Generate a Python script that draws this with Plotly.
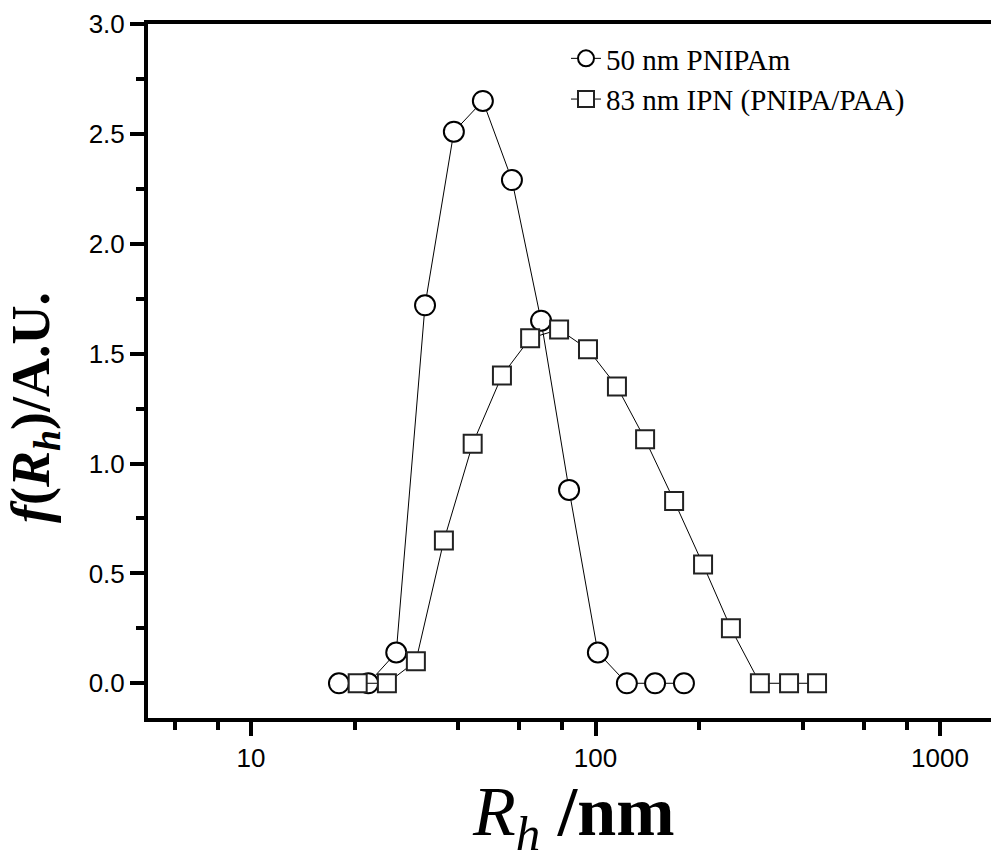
import plotly.graph_objects as go

# Hydrodynamic radius distributions (R_h in nm, f(R_h) in arbitrary units)
rh_pnipam = [18.0, 21.9, 26.4, 32.0, 38.8, 47.1, 57.2, 69.5, 83.8, 101.6, 123.3, 148.9, 180.6]
f_pnipam = [0.0, 0.0, 0.14, 1.72, 2.51, 2.65, 2.29, 1.65, 0.88, 0.14, 0.0, 0.0, 0.0]

rh_ipn = [20.4, 24.8, 30.1, 36.3, 44.0, 53.5, 64.6, 78.4, 95.1, 115.4, 139.3, 169.1,
          205.2, 247.2, 300.0, 364.6, 439.6]
f_ipn = [0.0, 0.0, 0.10, 0.65, 1.09, 1.40, 1.57, 1.61, 1.52, 1.35, 1.11, 0.83,
         0.54, 0.25, 0.0, 0.0, 0.0]

name_pnipam = "50 nm PNIPAm"
name_ipn = "83 nm IPN (PNIPA/PAA)"

x_major = [10, 100, 1000]
x_major_text = ["10", "100", "1000"]
x_minor = [6, 8, 20, 40, 60, 80, 200, 400, 600, 800]

W, H = 991, 865
L, R, T, B = 148, 0, 24, 147
PW, PH = W - L - R, H - T - B

fig = go.Figure()
fig.add_trace(go.Scatter(
    x=rh_pnipam, y=f_pnipam, name=name_pnipam, mode="lines+markers",
    line=dict(color="black", width=1),
    marker=dict(symbol="circle", size=20, color="white",
                line=dict(color="black", width=2)),
))
fig.add_trace(go.Scatter(
    x=rh_ipn, y=f_ipn, name=name_ipn, mode="lines+markers",
    line=dict(color="black", width=1),
    marker=dict(symbol="square", size=18, color="white",
                line=dict(color="#222", width=2)),
))

tick_font = dict(family="Liberation Sans, Arial, sans-serif", size=26, color="black")
serif = "Liberation Serif, Times New Roman, serif"

fig.update_layout(
    width=W, height=H,
    margin=dict(l=L, r=R, t=T, b=B, pad=0),
    paper_bgcolor="white", plot_bgcolor="white",
    showlegend=True,
    legend=dict(
        x=(566 - L) / PW, y=(718 - 33) / PH,
        xanchor="left", yanchor="top",
        bgcolor="rgba(0,0,0,0)", borderwidth=0,
        font=dict(family=serif, size=29, color="black"),
        tracegroupgap=0, itemsizing="trace",
    ),
    xaxis=dict(
        type="log", range=[0.7010, 3.148],
        showgrid=False, zeroline=False,
        showline=True, linecolor="black", linewidth=4, mirror=True,
        ticks="outside", ticklen=14, tickwidth=4, tickcolor="black",
        tickmode="array", tickvals=x_major, ticktext=x_major_text,
        tickfont=tick_font,
        minor=dict(tickmode="array", tickvals=x_minor, ticks="outside",
                   ticklen=8, tickwidth=4, tickcolor="black", showgrid=False),
    ),
    yaxis=dict(
        range=[-0.158, 3.0],
        showgrid=False, zeroline=False,
        showline=True, linecolor="black", linewidth=4, mirror=False,
        ticks="outside", ticklen=14, tickwidth=4, tickcolor="black",
        tickmode="linear", tick0=0, dtick=0.5, tickformat=".1f",
        tickfont=tick_font,
        minor=dict(dtick=0.25, tick0=0, ticks="outside",
                   ticklen=8, tickwidth=4, tickcolor="black", showgrid=False),
    ),
)

# Axis titles
fig.add_annotation(
    xref="paper", yref="paper",
    x=-(L - 34) / PW, y=(718 - 407) / PH,
    xanchor="center", yanchor="middle", textangle=-90, showarrow=False,
    text="<b><i>f</i>(<i>R</i><sub><i>h</i></sub>)/A.U.</b>",
    font=dict(family=serif, size=54, color="black"),
)
fig.add_annotation(
    xref="paper", yref="paper",
    x=(573 - L) / PW, y=-(771 - 718) / PH,
    xanchor="center", yanchor="top", showarrow=False,
    text="<i>R</i><sub><i>h</i></sub> <b>/nm</b>",
    font=dict(family=serif, size=70, color="black"),
)

fig.write_html("out.html")
